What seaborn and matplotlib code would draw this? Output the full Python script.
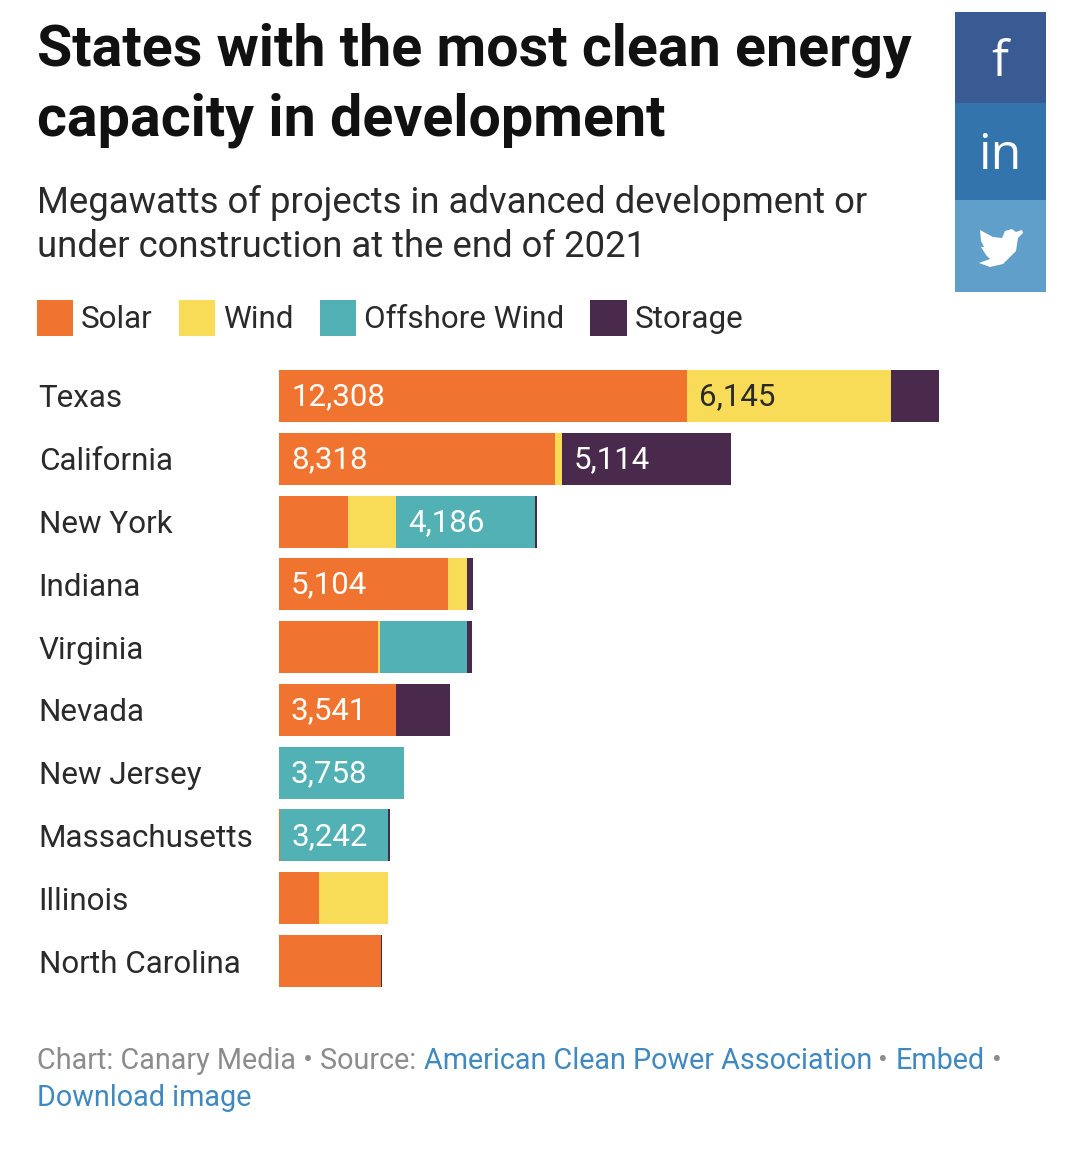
import matplotlib
matplotlib.use("Agg")
import matplotlib.pyplot as plt
from matplotlib.patches import Patch, Polygon, Rectangle
import pandas as pd
import seaborn as sns

WIDTH = 1083
HEIGHT = 1150

STATES = ["Texas", "California", "New York", "Indiana", "Virginia", "Nevada",
          "New Jersey", "Massachusetts", "Illinois", "North Carolina"]
SOLAR = [12308, 8318, 2080, 5104, 3000, 3541, 0, 30, 1210, 3080]
WIND = [6145, 210, 1450, 570, 60, 0, 0, 0, 2080, 0]
OFFSHORE = [0, 0, 4186, 0, 2600, 0, 3758, 3242, 0, 0]
STORAGE = [1448, 5114, 60, 180, 150, 1630, 0, 90, 0, 40]

SERIES = ["Solar", "Wind", "Offshore Wind", "Storage"]
COLORS = ["#f07430", "#f8dc58", "#52b1b5", "#4a2a4c"]
LABEL_MIN = 3200  # smaller segments have no value label in the original

FONT = "Roboto"
DARK = "#2a2a2a"
GREY = "#8c8c8c"
BLUE = "#3f88c0"


def fx(x):
    return x / WIDTH


def fy(y):
    return 1 - y / HEIGHT


def put_text(fig, x, y, text, size, color=DARK, weight="normal", family=FONT):
    fig.text(fx(x), fy(y), text, fontsize=size, color=color, fontweight=weight,
             family=family, va="baseline", ha="left")


def draw_header(fig):
    put_text(fig, 37, 66, "States with the most clean energy", 41.35, "#111111", "bold")
    put_text(fig, 37, 136, "capacity in development", 41.35, "#111111", "bold")
    put_text(fig, 37, 213, "Megawatts of projects in advanced development or", 26.3)
    put_text(fig, 37, 257, "under construction at the end of 2021", 26.3)


def draw_social(fig):
    blocks = [(12, 103, "#3a5a94"), (103, 200, "#3474ad"), (200, 292, "#5f9fca")]
    for top, bottom, color in blocks:
        fig.add_artist(Rectangle((fx(955), fy(bottom)), 91 / WIDTH, (bottom - top) / HEIGHT,
                                 transform=fig.transFigure, color=color, lw=0))
    fig.text(fx(1000), fy(76), "f", fontsize=36, color="white", family="Open Sans", ha="center", va="baseline")
    fig.text(fx(1000), fy(169), "in", fontsize=36, color="white", family="Open Sans", ha="center", va="baseline")
    # twitter bird, outline
    bird = [(1022, 230), (1016, 232), (1012, 229), (1005, 231), (1002, 238), (993, 237),
            (980, 230), (981, 241), (984, 247), (981, 247), (986, 255), (990, 259),
            (979, 263), (990, 267), (1003, 264), (1016, 251), (1018, 238), (1023, 233)]
    fig.add_artist(Polygon([(fx(x), fy(y)) for x, y in bird], closed=True,
                           transform=fig.transFigure, color="white", lw=0))


def draw_bars(fig, df):
    ax = fig.add_axes([fx(279), fy(992.4), 660 / WIDTH, 627.8 / HEIGHT])
    left = pd.Series(0, index=df.index)
    for name, color in zip(SERIES, COLORS):
        sns.barplot(data=df, y="state", x=name, left=left, color=color, width=0.828,
                    orient="h", saturation=1, linewidth=0, ax=ax)
        for i, value in enumerate(df[name]):
            if value >= LABEL_MIN:
                text_color = DARK if name == "Wind" else "white"
                ax.annotate(f"{value:,}", (left[i], i), xytext=(8.6, -0.5), textcoords="offset points",
                            color=text_color, fontsize=22.5, family=FONT, va="center", ha="left")
        left = left + df[name]

    ax.set_xlim(0, 19901)
    ax.set_ylim(9.5, -0.5)
    ax.set_xlabel("")
    ax.set_ylabel("")
    ax.set_xticks([])
    ax.tick_params(axis="y", length=0, pad=173)
    for label in ax.get_yticklabels():
        label.set_ha("left")
        label.set_fontsize(22.6)
        label.set_color(DARK)
        label.set_family(FONT)
    sns.despine(ax=ax, left=True, bottom=True)
    return ax


def draw_legend(fig):
    handles = [Patch(color=c, lw=0) for c in COLORS]
    fig.legend(handles, SERIES, loc="upper left", bbox_to_anchor=(fx(37), fy(300)),
               ncols=4, frameon=False, borderpad=0, borderaxespad=0,
               labelcolor=DARK, prop={"family": FONT, "size": 22.6},
               handlelength=1.15, handleheight=1.39, handletextpad=0.25, columnspacing=0.84)


def draw_footer(fig):
    put_text(fig, 37, 1069, "Chart: Canary Media • Source:", 20.7, GREY)
    put_text(fig, 424, 1069, "American Clean Power Association", 20.7, BLUE)
    put_text(fig, 878, 1069, "•", 20.7, GREY)
    put_text(fig, 896, 1069, "Embed", 20.7, BLUE)
    put_text(fig, 992, 1069, "•", 20.7, GREY)
    put_text(fig, 37, 1106, "Download image", 20.7, BLUE)


def main():
    sns.set_theme(style="white")
    df = pd.DataFrame({"state": STATES, "Solar": SOLAR, "Wind": WIND,
                       "Offshore Wind": OFFSHORE, "Storage": STORAGE})

    fig = plt.figure(figsize=(WIDTH / 100, HEIGHT / 100), dpi=100, facecolor="white")
    draw_header(fig)
    draw_social(fig)
    draw_legend(fig)
    draw_bars(fig, df)
    draw_footer(fig)
    fig.savefig("out.png", dpi=100)
    plt.close(fig)


if __name__ == "__main__":
    main()
